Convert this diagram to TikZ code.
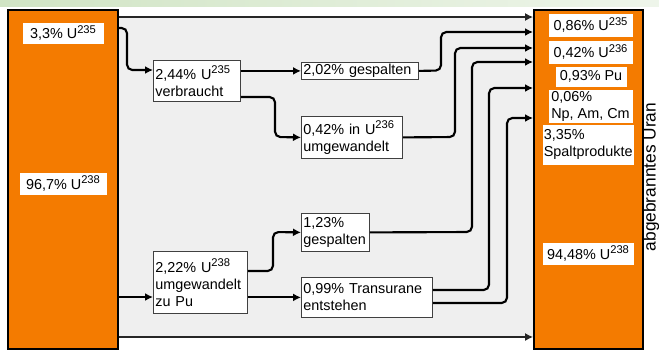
\documentclass[tikz,border=0pt]{standalone}
\usepackage{fontspec}
\setmainfont{Liberation Sans}
\usetikzlibrary{arrows.meta}
\definecolor{brennstab}{RGB}{244,123,0}
\definecolor{feld}{RGB}{239,239,239}
\definecolor{kopf}{RGB}{208,228,196}
\newcommand\lbl{\fontsize{10.8}{12.75}\selectfont\hyphenpenalty=10000 }
\newcommand\hoch[1]{\raisebox{4.3pt}{\fontsize{8.4}{9}\selectfont #1}}
\tikzset{every picture/.style={line width=0.75pt}}

\begin{document}
\begin{tikzpicture}[x=0.75pt,y=0.75pt,yscale=-1,xscale=1,
  stab/.style={draw=black, line width=1.5pt, fill=brennstab, anchor=north west, inner sep=0pt},
  tag/.style={fill=white, anchor=north west, inner xsep=1.5pt, inner ysep=1pt, font=\lbl},
  stepbox/.style={draw=black!75, line width=0.6pt, fill=white, anchor=north west, inner xsep=1.5pt, inner ysep=1pt, align=left, font=\lbl},
  flow/.style={line width=1.6pt, rounded corners=4pt, -{Latex[length=6pt,width=6pt]}},
  rim/.style={line width=0.9pt, draw=black!85, -{Latex[length=6pt,width=6pt]}}]
\useasboundingbox (0,0) rectangle (659,350);

%Header strip
\shade[left color=kopf, right color=kopf!35!white] (0,0) rectangle (659,6);
%Grey field
\fill[feld] (117,17) rectangle (533,337);

%Shape: fresh and spent fuel
\node[stab, minimum width=82.5pt, minimum height=254.25pt] (frisch) at (7,9) {};
\node[stab, minimum width=81.75pt, minimum height=254.25pt] (abgebrannt) at (533,9) {};

% Text Node
\node[tag, minimum width=60.75pt, minimum height=15.75pt] (u235a) at (22,22) {3,3\% U\hoch{235}};
\node[tag, minimum width=65.25pt, minimum height=16.5pt] (u238a) at (19,172) {96,7\% U\hoch{238}};

% Text Node
\node[stepbox, text width=62.25pt, minimum height=30.75pt] (n235) at (153,60) {2,44\% U\hoch{235}\\verbraucht};
\node[stepbox, text width=84.75pt, minimum height=12.75pt] (split235) at (301,62) {2,02\% gespalten};
\node[stepbox, text width=72.75pt, minimum height=31.5pt] (conv236) at (301,116) {0,42\% in U\hoch{236}\\umgewandelt};
\node[stepbox, text width=48pt, minimum height=28.5pt] (split238) at (301,213) {1,23\%\\gespalten};
\node[stepbox, text width=67.5pt, minimum height=46.5pt] (n238) at (153,251) {2,22\% U\hoch{238}\\umgewandelt\\zu Pu};
\node[stepbox, text width=95.25pt, minimum height=30pt] (trans) at (301,277) {0,99\% Transurane\\entstehen};

% Text Node
\node[tag, minimum width=63pt, minimum height=17.25pt] (u235b) at (548,13) {0,86\% U\hoch{235}};
\node[tag, minimum width=63pt, minimum height=17.25pt] (u236b) at (548,40) {0,42\% U\hoch{236}};
\node[tag, minimum width=53.25pt, minimum height=15pt] (pu) at (555,66) {0,93\% Pu};
\node[tag, align=left, minimum width=63pt, minimum height=24.75pt, inner xsep=1pt] (npamcm) at (548,89) {0,06\%\\Np, Am, Cm};
\node[tag, align=left, minimum width=68.25pt, minimum height=30pt, inner xsep=1pt] (spalt) at (542,124) {3,35\%\\Spaltprodukte};
\node[tag, minimum width=68.25pt, minimum height=16.5pt] (u238b) at (542,242) {94,48\% U\hoch{238}};
\node[rotate=90, anchor=base, font=\fontsize{13}{15}\selectfont] (uran) at (655.5,177) {abgebranntes Uran};

%Straight Lines
\draw[rim] (frisch.east |- 0,17) -- (abgebrannt.west |- 0,17);
\draw[rim] (frisch.east |- 0,337) -- (abgebrannt.west |- 0,337);

%Curve Lines
\draw[flow] (frisch.east |- 0,28) -- (127,28) -- (127,70) -- (n235.west |- 0,70);
\draw[flow] (n235.east |- split235.west) -- (split235.west);
\draw[flow] (n235.east |- 0,97) -- (275,97) -- (275,137) -- (conv236.west);
\draw[flow] (split235.east) -- (441,70.5) -- (441,32) -- (abgebrannt.west |- 0,32);
\draw[flow] (conv236.east) -- (455,137) -- (455,48) -- (abgebrannt.west |- 0,48);

\draw[flow] (frisch.east |- 0,297) -- (n238.west |- 0,297);
\draw[flow] (n238.east |- 0,271) -- (273,271) -- (273,232) -- (split238.west);
\draw[flow] (n238.east |- trans.west) -- (trans.west);
\draw[flow] (split238.east) -- (472,232) -- (472,62) -- (abgebrannt.west |- 0,62);
\draw[flow] (trans.east |- 0,290) -- (489,290) -- (489,88) -- (abgebrannt.west |- 0,88);
\draw[flow] (trans.east |- 0,303) -- (507,303) -- (507,118) -- (abgebrannt.west |- 0,118);

\end{tikzpicture}
\end{document}
